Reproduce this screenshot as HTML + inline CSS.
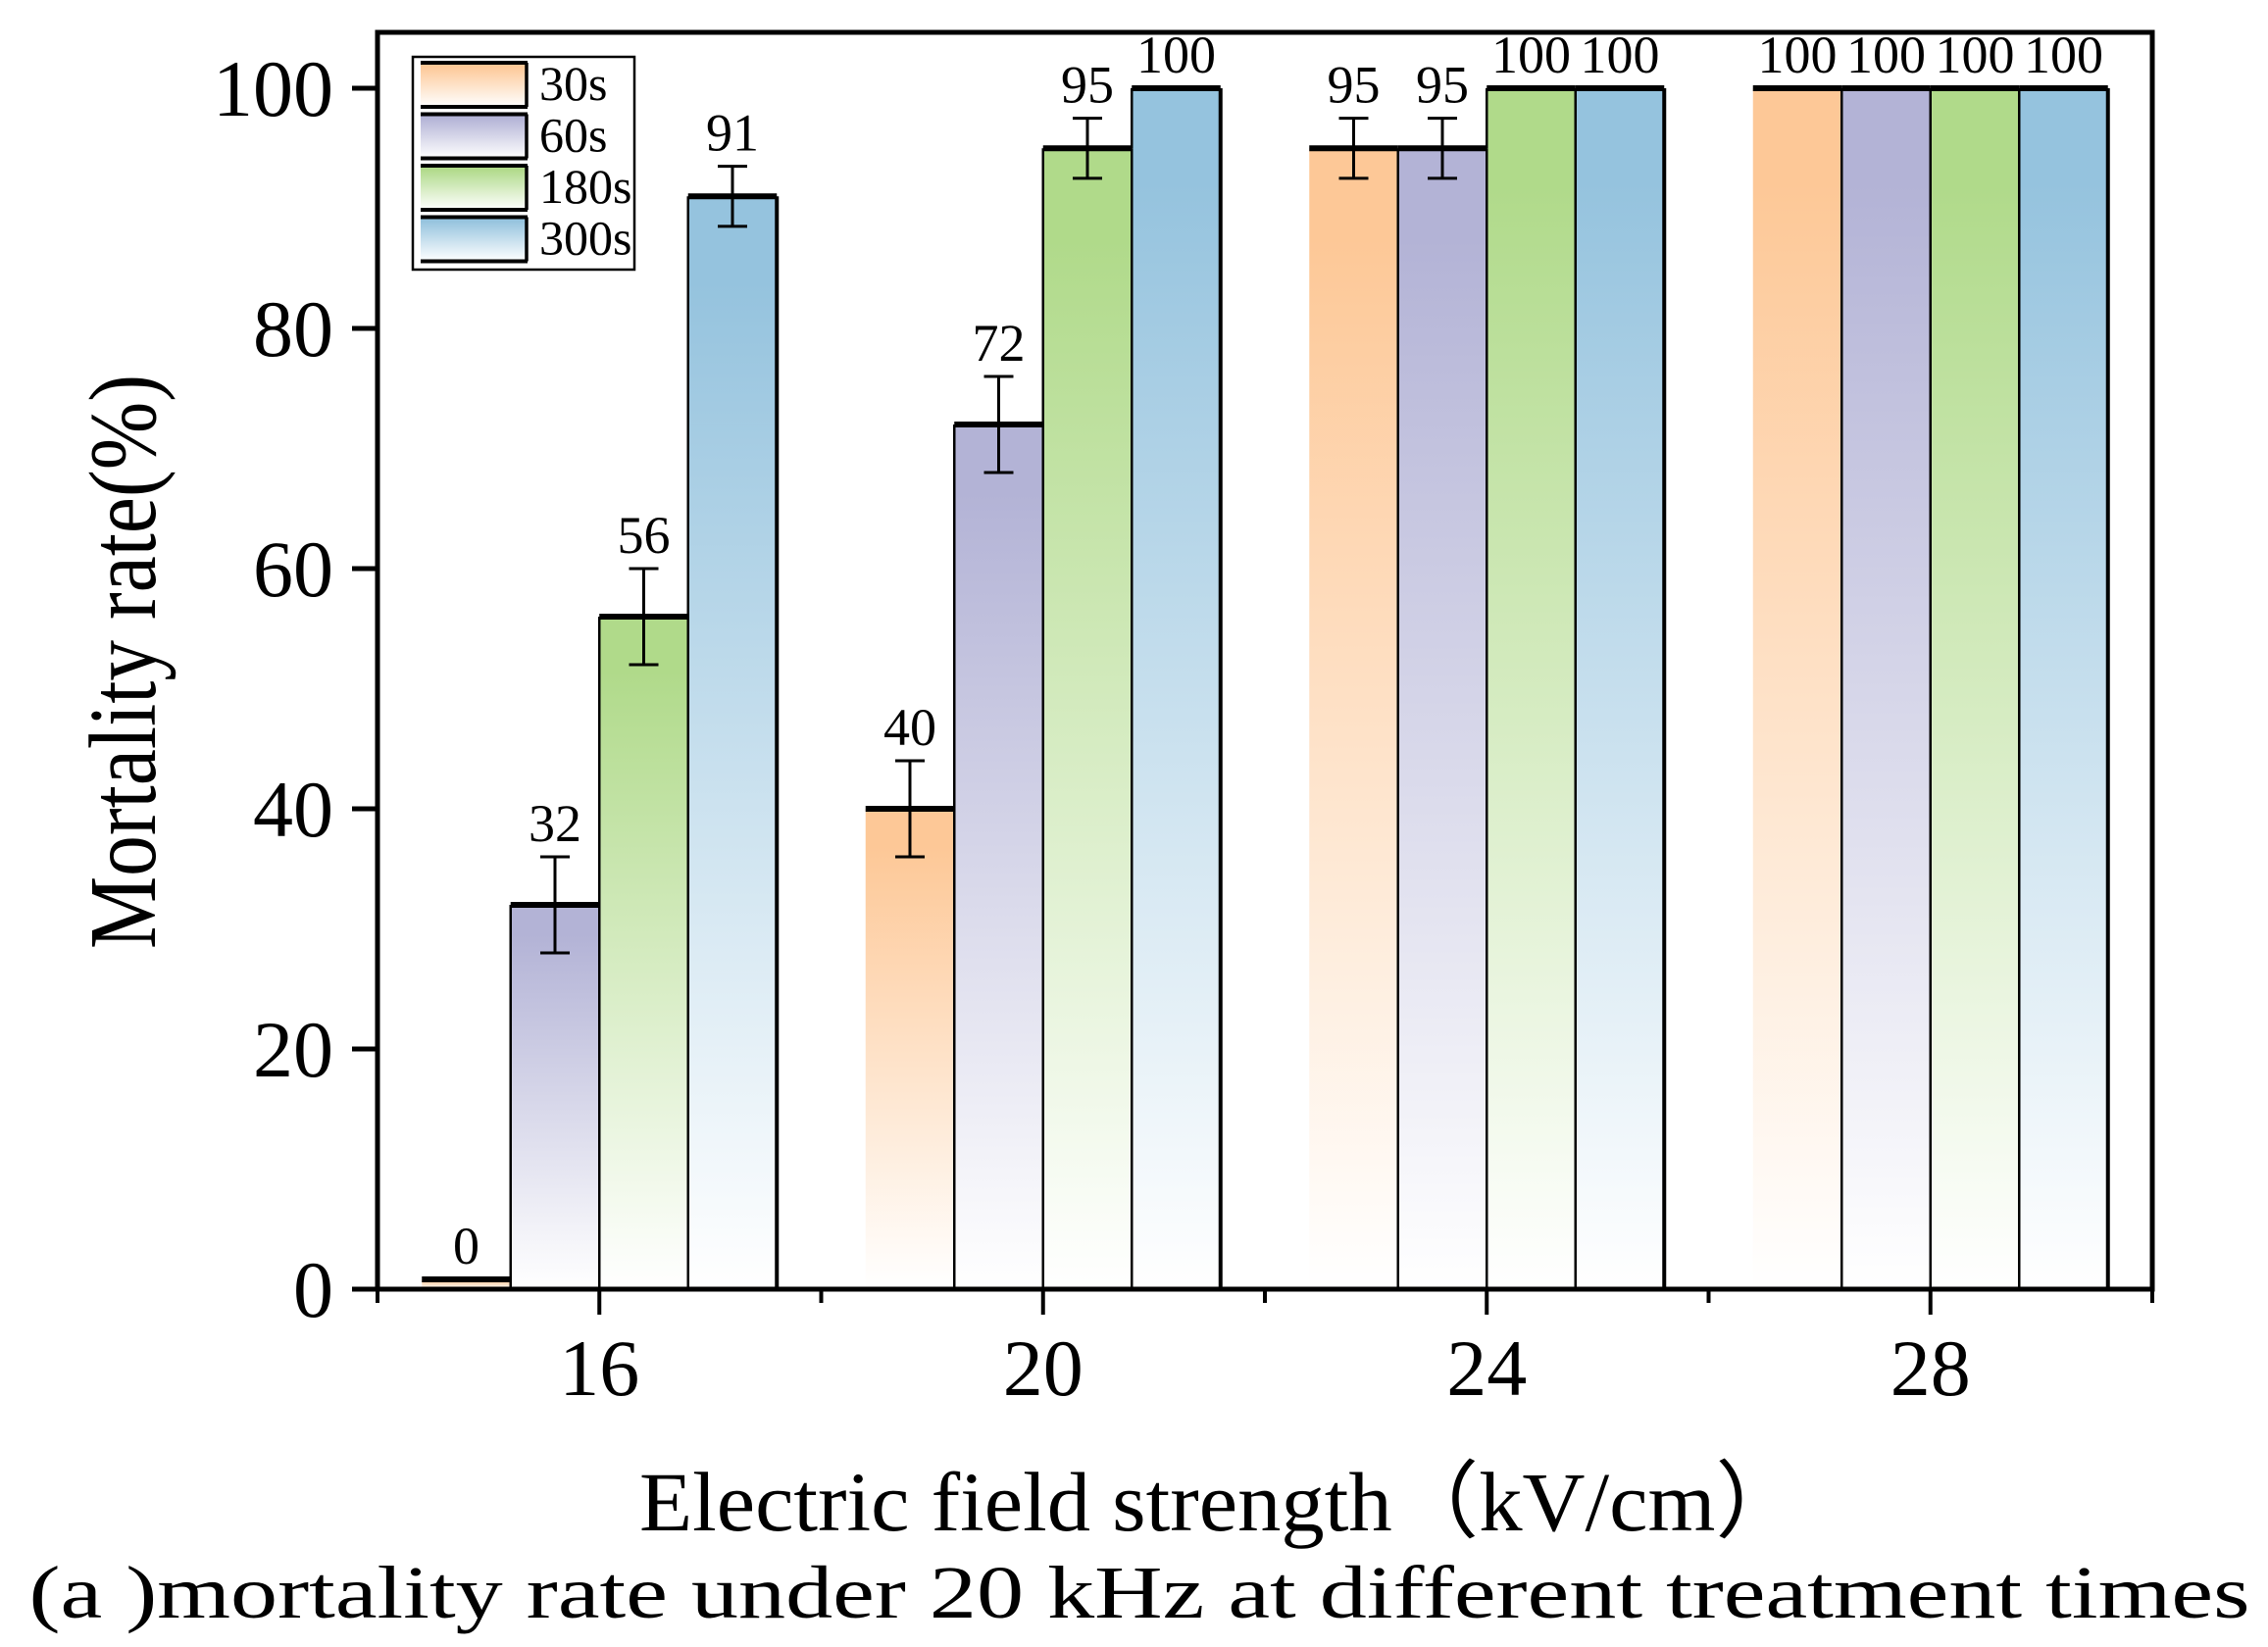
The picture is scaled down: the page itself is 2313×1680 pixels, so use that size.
<!DOCTYPE html>
<html><head><meta charset="utf-8"><style>
html,body{margin:0;padding:0;background:#fff}
svg{display:block;font-family:"Liberation Serif","Times New Roman",serif}
text{font-family:"Liberation Serif","Times New Roman",serif;fill:#000}
</style></head><body>
<svg id="chart" width="2313" height="1680" viewBox="0 0 2313 1680" font-family="Liberation Serif, serif">
<defs>
<linearGradient id="g0" x1="0" y1="0" x2="0" y2="1"><stop offset="0" stop-color="#fdc897"/><stop offset="0.08" stop-color="#fdc897"/><stop offset="1" stop-color="#fff"/></linearGradient>
<linearGradient id="g1" x1="0" y1="0" x2="0" y2="1"><stop offset="0" stop-color="#b3b3d6"/><stop offset="0.08" stop-color="#b3b3d6"/><stop offset="1" stop-color="#fff"/></linearGradient>
<linearGradient id="g2" x1="0" y1="0" x2="0" y2="1"><stop offset="0" stop-color="#b0da8a"/><stop offset="0.08" stop-color="#b0da8a"/><stop offset="1" stop-color="#fff"/></linearGradient>
<linearGradient id="g3" x1="0" y1="0" x2="0" y2="1"><stop offset="0" stop-color="#95c3de"/><stop offset="0.08" stop-color="#95c3de"/><stop offset="1" stop-color="#fff"/></linearGradient>
</defs>
<g id="bars"></g>
<g id="edges"></g>
<g id="axes"></g>
<g id="legend"></g>
<text x="1245" y="1561" font-size="86" font-family="Liberation Serif, serif" text-anchor="middle" textLength="1186" lengthAdjust="spacingAndGlyphs">Electric field strength（kV/cm）</text>
<text x="1162" y="1650" font-size="76" font-family="Liberation Serif, serif" text-anchor="middle" textLength="2265" lengthAdjust="spacingAndGlyphs">(a )mortality rate under 20 kHz at different treatment times</text>
<text transform="translate(158,675) rotate(-90)" font-size="98" font-family="Liberation Serif, serif" text-anchor="middle" textLength="586" lengthAdjust="spacingAndGlyphs">Mortality rate(%)</text>
</svg>
<script>
const categories = [16, 20, 24, 28];
const seriesNames = ["30s", "60s", "180s", "300s"];
const s30 = [0, 40, 95, 100];
const s60 = [32, 72, 95, 100];
const s180 = [56, 95, 100, 100];
const s300 = [91, 100, 100, 100];
const e30 = [0, 4, 2.5, 0];
const e60 = [4, 4, 2.5, 0];
const e180 = [4, 2.5, 0, 0];
const e300 = [2.5, 0, 0, 0];
const yTicks = [0, 20, 40, 60, 80, 100];

const NS = "http://www.w3.org/2000/svg";
const X0 = 385, X1 = 2195, Y0 = 1315, Y100 = 90, TOP = 33;
const xs = v => X0 + (v - 14) / 16 * (X1 - X0);
const ys = v => Y0 - v / 100 * (Y0 - Y100);
const unit = (X1 - X0) / 16;
const bw = 0.8 * unit;
const FF = "Liberation Serif, serif";
function mk(tag, attrs, parent) {
  const e = document.createElementNS(NS, tag);
  for (const k in attrs) e.setAttribute(k, attrs[k]);
  parent.appendChild(e);
  return e;
}
const bars = document.getElementById("bars");
const edges = document.getElementById("edges");
const axes = document.getElementById("axes");
const legend = document.getElementById("legend");
const series = [s30, s60, s180, s300];
const errs = [e30, e60, e180, e300];
const keys = ["30s", "60s", "180s", "300s"];

categories.forEach((c, ci) => {
  series.forEach((s, si) => {
    const v = s[ci];
    const left = xs(c) + (si - 2) * bw;
    const top = v === 0 ? Y0 - 10 : ys(v);
    const r = mk("rect", {x: left, y: top, width: bw, height: Y0 - top, fill: "url(#g" + si + ")"}, bars);
    
    
    const rl = mk("line", {x1: left + bw, y1: top, x2: left + bw, y2: Y0, stroke: "#000", "stroke-width": si === 3 ? 4 : 2.5}, edges);
    
    
    if (si > 0 && series[si - 1][ci] < v) {
      const ll = mk("line", {x1: left, y1: top, x2: left, y2: ys(series[si - 1][ci]), stroke: "#000", "stroke-width": 2.5}, edges);
      
      
    }
    const tl = mk("line", {x1: left, y1: top, x2: left + bw, y2: top, stroke: "#000", "stroke-width": 6}, edges);
    
    
    const e = errs[si][ci];
    const cx = left + bw / 2;
    if (e > 0) {
      const g = mk("g", {stroke: "#000", "stroke-width": 3}, edges);
      
      
      mk("line", {x1: cx, y1: ys(v + e), x2: cx, y2: ys(v - e)}, g);
      mk("line", {x1: cx - 15, y1: ys(v + e), x2: cx + 15, y2: ys(v + e)}, g);
      mk("line", {x1: cx - 15, y1: ys(v - e), x2: cx + 15, y2: ys(v - e)}, g);
    }
    const t = mk("text", {x: cx, y: (e > 0 ? ys(v + e) : top) - 16, "font-size": 54, "font-family": FF, "text-anchor": "middle"}, edges);
    t.textContent = String(v);
    
    
  });
});

const fr = mk("rect", {x: X0, y: TOP, width: X1 - X0, height: Y0 - TOP, fill: "none", stroke: "#000", "stroke-width": 5}, axes);


yTicks.forEach(v => {
  const l = mk("line", {x1: X0 - 26, y1: ys(v), x2: X0, y2: ys(v), stroke: "#000", "stroke-width": 5}, axes);
  
  
  const t = mk("text", {x: 340, y: ys(v) + 28, "font-size": 82, "font-family": FF, "text-anchor": "end"}, axes);
  t.textContent = String(v);
  
  
});
for (let k = 0; k <= 8; k++) {
  const xv = 14 + k * 2;
  const major = categories.includes(xv);
  const l = mk("line", {x1: xs(xv), y1: Y0, x2: xs(xv), y2: Y0 + (major ? 26 : 14), stroke: "#000", "stroke-width": 4}, axes);
  
  
}
categories.forEach(c => {
  const t = mk("text", {x: xs(c), y: 1423, "font-size": 82, "font-family": FF, "text-anchor": "middle"}, axes);
  t.textContent = String(c);
  
  
});

const lb = mk("rect", {x: 421, y: 58, width: 226, height: 217, fill: "#fff", stroke: "#000", "stroke-width": 2.5}, legend);


seriesNames.forEach((n, i) => {
  const y = 64 + i * 52.5;
  const g = mk("g", {}, legend);
  
  
  mk("rect", {x: 429, y: y, width: 108, height: 45, fill: "url(#g" + i + ")"}, g);
  mk("line", {x1: 429, y1: y, x2: 538, y2: y, stroke: "#000", "stroke-width": 4}, g);
  mk("line", {x1: 429, y1: y + 45, x2: 538, y2: y + 45, stroke: "#000", "stroke-width": 4}, g);
  mk("line", {x1: 537, y1: y, x2: 537, y2: y + 45, stroke: "#000", "stroke-width": 3.5}, g);
  const t = mk("text", {x: 550, y: y + 38, "font-size": 50, "font-family": FF}, g);
  t.textContent = n;
});
</script>
</body></html>
